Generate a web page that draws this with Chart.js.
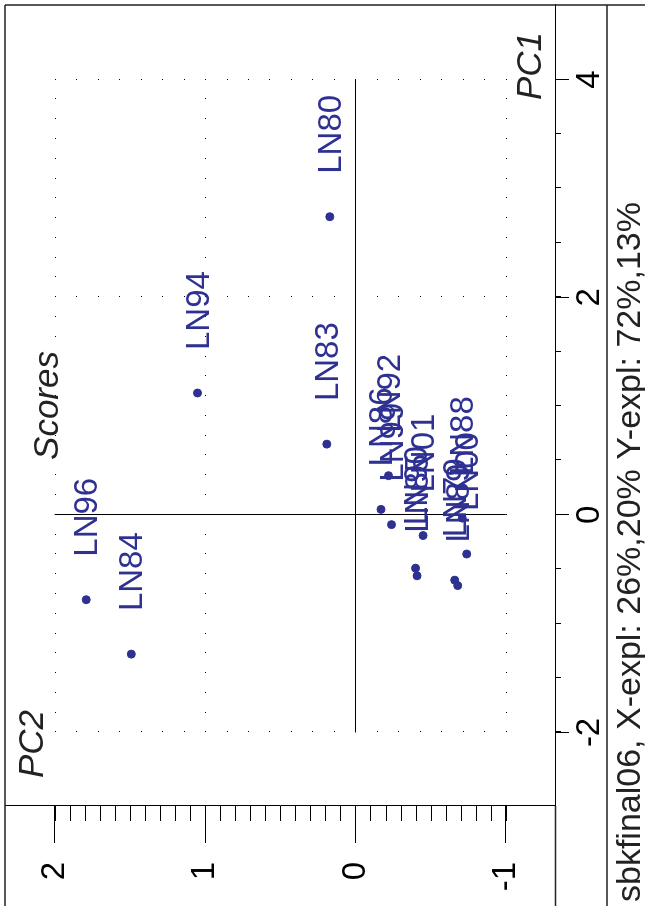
<!DOCTYPE html>
<html>
<head>
<meta charset="utf-8">
<script src="https://cdn.jsdelivr.net/npm/chart.js@4.4.0/dist/chart.umd.min.js"></script>
<style>
  html, body { margin: 0; padding: 0; background: #fff; overflow: hidden; }
  /* chart is drawn landscape, then turned a quarter to the left */
  #wrap { position: absolute; left: 0; top: 0; width: 906px; height: 645px;
    transform-origin: 0 0; transform: translate(0, 906px) rotate(-90deg); }
</style>
</head>
<body>
<div id="wrap"><canvas id="chart" width="906" height="645"></canvas></div>
<script>
// Scores data (PC1, PC2)
const samples = ['LN96', 'LN84', 'LN94', 'LN83', 'LN80', 'LN92', 'LN86', 'LN99',
  'LN01', 'LN90', 'LN85', 'LN88', 'LN00', 'LN79', 'LN89'];
const pc1 = [-0.78, -1.28, 1.12, 0.65, 2.74, 0.36, 0.05, -0.09,
  -0.19, -0.49, -0.56, -0.03, -0.36, -0.60, -0.65];
const pc2 = [1.79, 1.49, 1.05, 0.19, 0.17, -0.22, -0.17, -0.24,
  -0.45, -0.40, -0.41, -0.71, -0.74, -0.66, -0.68];
const pc1Ticks = [-2, 0, 2, 4];
const pc2Ticks = [-1, 0, 1, 2];
const plotTitle = 'Scores';
const xName = 'PC1';
const yName = 'PC2';
const footer = 'sbkfinal06, X-expl: 26%,20% Y-expl: 72%,13%';

const FONT = '"Liberation Sans", Arial, Helvetica, sans-serif';
const BLUE = '#2e3192';

// dotted grid at major ticks, solid cross at zero
const gridPlugin = {
  id: 'grid',
  beforeDatasetsDraw(chart) {
    const { ctx, scales: { x, y } } = chart;
    const x0 = x.getPixelForValue(pc1Ticks[0]), x1 = x.getPixelForValue(pc1Ticks[pc1Ticks.length - 1]);
    const y0 = y.getPixelForValue(pc2Ticks[pc2Ticks.length - 1]), y1 = y.getPixelForValue(pc2Ticks[0]);
    ctx.save();
    ctx.fillStyle = '#000';
    const nx = 33, ny = 21;
    pc2Ticks.filter(v => v !== 0).forEach(v => {
      const py = Math.round(y.getPixelForValue(v));
      for (let i = 0; i <= nx; i++) ctx.fillRect(Math.round(x0 + (x1 - x0) * i / nx), py, 1, 1);
    });
    pc1Ticks.filter(v => v !== 0).forEach(v => {
      const px = Math.round(x.getPixelForValue(v));
      for (let i = 0; i <= ny; i++) ctx.fillRect(px, Math.round(y0 + (y1 - y0) * i / ny), 1, 1);
    });
    ctx.strokeStyle = '#000';
    ctx.lineWidth = 1;
    const zx = Math.round(x.getPixelForValue(0)) + 0.5, zy = Math.round(y.getPixelForValue(0)) + 0.5;
    ctx.beginPath();
    ctx.moveTo(x0, zy); ctx.lineTo(x1, zy);
    ctx.moveTo(zx, y0); ctx.lineTo(zx, y1);
    ctx.stroke();
    ctx.restore();
  }
};

// minor ticks, frame and texts
const framePlugin = {
  id: 'frame',
  afterDraw(chart) {
    const { ctx, chartArea: a, scales: { x, y }, width, height } = chart;
    ctx.save();
    ctx.strokeStyle = '#000';
    ctx.lineWidth = 1;
    ctx.beginPath();
    for (let v = pc1Ticks[0]; v <= pc1Ticks[pc1Ticks.length - 1] + 1e-9; v += 0.5) {
      const px = Math.round(x.getPixelForValue(v)) + 0.5;
      ctx.moveTo(px, a.bottom); ctx.lineTo(px, a.bottom + 6);
    }
    for (let v = pc2Ticks[0]; v <= pc2Ticks[pc2Ticks.length - 1] + 1e-9; v += 0.1) {
      const py = Math.round(y.getPixelForValue(v)) + 0.5;
      ctx.moveTo(a.left, py); ctx.lineTo(a.left - 15, py);
    }
    ctx.stroke();

    ctx.strokeStyle = '#222';
    ctx.lineWidth = 1.5;
    ctx.beginPath();
    ctx.moveTo(0, a.top); ctx.lineTo(a.right, a.top);
    ctx.moveTo(a.right, a.top); ctx.lineTo(a.right, height);
    ctx.moveTo(0, a.bottom + 0.5); ctx.lineTo(a.left, a.bottom + 0.5);
    ctx.moveTo(0, a.bottom + 52); ctx.lineTo(a.right, a.bottom + 52);
    ctx.stroke();

    ctx.fillStyle = '#222';
    ctx.textBaseline = 'alphabetic';
    ctx.font = 'italic 35px ' + FONT;
    ctx.textAlign = 'center';
    ctx.fillText(plotTitle, (a.left + a.right) / 2, a.top + 53);
    ctx.textAlign = 'left';
    ctx.fillText(yName, a.left + 28, a.top + 38);
    ctx.textAlign = 'right';
    ctx.fillText(xName, a.right - 27, a.bottom - 14);
    ctx.font = '34px ' + FONT;
    ctx.textAlign = 'left';
    ctx.fillText(footer, 4, height - 5);
    ctx.restore();
  }
};

// sample names beside each point
const labelPlugin = {
  id: 'pointNames',
  afterDatasetsDraw(chart) {
    const { ctx } = chart;
    const meta = chart.getDatasetMeta(0);
    ctx.save();
    ctx.fillStyle = BLUE;
    ctx.font = '33px ' + FONT;
    ctx.textAlign = 'left';
    ctx.textBaseline = 'middle';
    meta.data.forEach((pt, i) => {
      ctx.fillText(samples[i], pt.x + 43, pt.y + 2);
    });
    ctx.restore();
  }
};

new Chart(document.getElementById('chart'), {
  type: 'scatter',
  data: {
    datasets: [{
      data: pc1.map((v, i) => ({ x: v, y: pc2[i] })),
      backgroundColor: BLUE,
      borderColor: BLUE,
      pointRadius: 4,
      pointHoverRadius: 4
    }]
  },
  options: {
    responsive: false,
    devicePixelRatio: 1,
    animation: false,
    layout: { padding: { top: 4, right: 4, left: 0, bottom: 0 } },
    plugins: { legend: { display: false }, tooltip: { enabled: false } },
    scales: {
      x: {
        type: 'linear', position: 'bottom', min: -2.676, max: 4.686,
        afterBuildTicks: s => { s.ticks = pc1Ticks.map(v => ({ value: v })); },
        afterFit: s => { s.height = 90; s.paddingLeft = 0; s.paddingRight = 0; },
        grid: { drawOnChartArea: false, tickLength: 14, tickColor: '#000', tickWidth: 1 },
        border: { display: true, color: '#000', width: 1 },
        ticks: { padding: 1, color: '#000', autoSkip: false, maxRotation: 0,
          font: { family: FONT, size: 33 } }
      },
      y: {
        type: 'linear', position: 'left', min: -1.327, max: 2.330,
        afterBuildTicks: s => { s.ticks = pc2Ticks.map(v => ({ value: v })); },
        afterFit: s => { s.width = 100; s.paddingTop = 0; s.paddingBottom = 0; },
        grid: { drawOnChartArea: false, tickLength: 37, tickColor: '#000', tickWidth: 1 },
        border: { display: true, color: '#000', width: 1 },
        ticks: { padding: 19, color: '#000', font: { family: FONT, size: 33 } }
      }
    }
  },
  plugins: [gridPlugin, labelPlugin, framePlugin]
});
</script>
</body>
</html>
